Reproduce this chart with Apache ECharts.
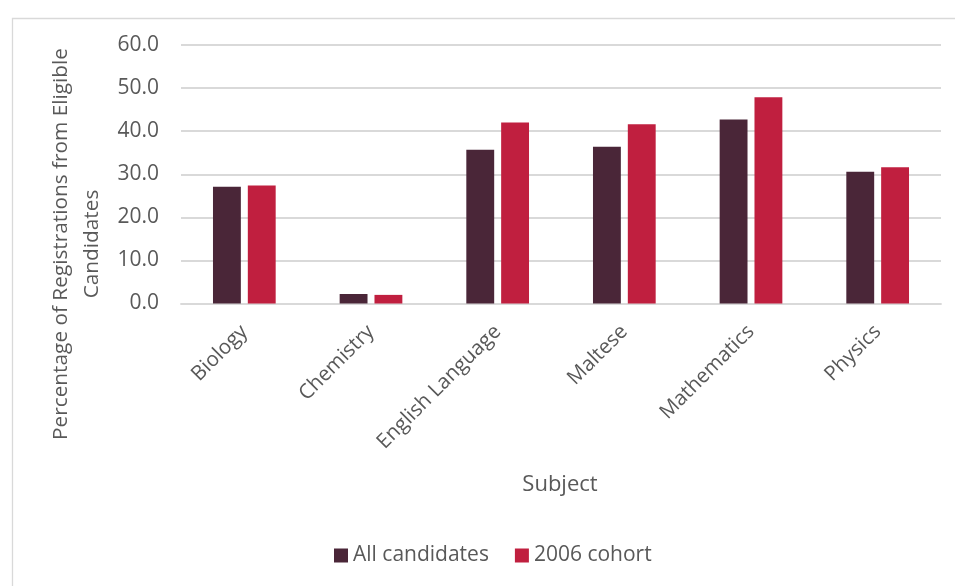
<!DOCTYPE html>
<html>
<head>
<meta charset="utf-8">
<script src="https://cdn.jsdelivr.net/npm/echarts@6/dist/echarts.min.js"></script>
<style>html,body{margin:0;padding:0;background:#fff}#c{width:955px;height:586px}</style>
</head>
<body>
<div id="c"></div>
<script>
const categories = ['Biology', 'Chemistry', 'English Language', 'Maltese', 'Mathematics', 'Physics'];
const allCandidates = [27.1, 2.2, 35.7, 36.4, 42.7, 30.6];
const cohort2006 = [27.4, 2.0, 42.0, 41.6, 47.9, 31.6];
const seriesNames = ['All candidates', '2006 cohort'];
const yTitleLines = ['Percentage of Registrations from Eligible', 'Candidates'];
const xTitle = 'Subject';

const FONT = 'Open Sans';
const TXT = '#595959';
const chart = echarts.init(document.getElementById('c'), null, {renderer: 'canvas'});
chart.setOption({
  animation: false,
  backgroundColor: '#fff',
  textStyle: {fontFamily: FONT},
  graphic: [
    {type: 'rect', left: 10, top: 16, shape: {width: 1000, height: 1000},
     style: {fill: 'none', stroke: '#d9d9d9', lineWidth: 1.3}, z: 0},
    {type: 'text', x: 61, y: 244, rotation: Math.PI / 2,
     style: {text: yTitleLines[0], font: '20.8px "Open Sans"', fill: TXT, align: 'center', verticalAlign: 'middle'}},
    {type: 'text', x: 92, y: 244, rotation: Math.PI / 2,
     style: {text: yTitleLines[1], font: '20.8px "Open Sans"', fill: TXT, align: 'center', verticalAlign: 'middle'}},
    {type: 'text', x: 560, y: 485,
     style: {text: xTitle, font: '22px "Open Sans"', fill: TXT, align: 'center', verticalAlign: 'middle'}}
  ],
  color: ['#4A2638', '#C01F3F'],
  legend: {
    data: seriesNames,
    left: 329, top: 540,
    itemWidth: 14, itemHeight: 14, itemGap: 26,
    icon: 'rect',
    textStyle: {fontSize: 21, color: TXT, fontFamily: FONT}
  },
  grid: {left: 181, right: 14, top: 45, bottom: 282.5, containLabel: false},
  xAxis: {
    type: 'category',
    data: categories,
    axisLine: {show: true, lineStyle: {color: '#d9d9d9', width: 1.8}},
    axisTick: {show: false},
    axisLabel: {rotate: 45, color: TXT, fontSize: 20.5, margin: 25, interval: 0, fontFamily: FONT}
  },
  yAxis: {
    type: 'value', min: 0, max: 60, interval: 10,
    axisLine: {show: false}, axisTick: {show: false},
    splitLine: {lineStyle: {color: '#d9d9d9', width: 1.8}},
    axisLabel: {color: TXT, fontSize: 21, margin: 22, fontFamily: FONT,
      formatter: v => v.toFixed(1)}
  },
  series: [
    {name: seriesNames[0], type: 'bar', data: allCandidates, barWidth: '22%', barGap: '25%'},
    {name: seriesNames[1], type: 'bar', data: cohort2006, barWidth: '22%', barGap: '25%'}
  ]
});
</script>
</body>
</html>
